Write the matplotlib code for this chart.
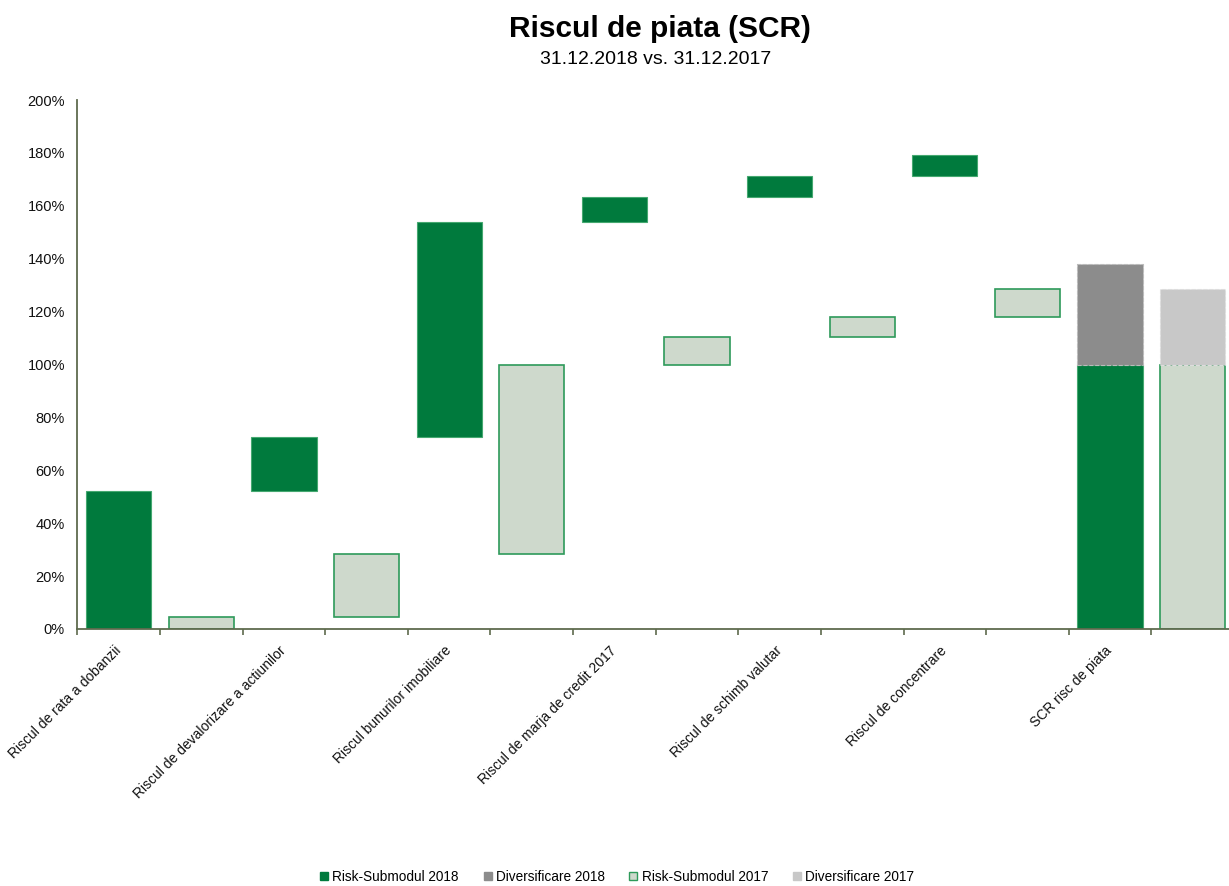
import numpy as np
import matplotlib.pyplot as plt
from matplotlib.lines import Line2D

plt.rcParams['font.family'] = ['Liberation Sans', 'DejaVu Sans']

# category slots (labels only on the 2018 slot of each pair)
categories = ["Riscul de rata a dobanzii", "",
              "Riscul de devalorizare a actiunilor", "",
              "Riscul bunurilor imobiliare", "",
              "Riscul de marja de credit 2017", "",
              "Riscul de schimb valutar", "",
              "Riscul de concentrare", "",
              "SCR risc de piata", ""]

# submodule increments (in % of SCR)
risk_2018 = [52.3, 20.3, 81.3, 9.4, 8.0, 7.9]
risk_2017 = [4.7, 23.7, 71.4, 10.6, 7.6, 10.5]
scr_2018 = 100.0
div_2018 = 38.0
scr_2017 = 100.0
div_2017 = 28.5

c_green = '#007A3D'
c_green_edge = '#45A870'
c_light = '#CED9CC'
c_light_edge = '#2E9A5A'
c_grey = '#8C8C8C'
c_lgrey = '#C8C8C8'

fig = plt.figure(figsize=(12.29, 8.86), dpi=100)
ax = fig.add_axes([77.4 / 1229, 1 - 629 / 886, (1234 - 77.4) / 1229, 529 / 886])

w = 0.79
n = len(risk_2018)
x18 = np.arange(n) * 2
x17 = np.arange(n) * 2 + 1
bot18 = np.concatenate([[0], np.cumsum(risk_2018)[:-1]])
bot17 = np.concatenate([[0], np.cumsum(risk_2017)[:-1]])

ax.bar(x18, risk_2018, w, bottom=bot18, color=c_green, edgecolor=c_green_edge, linewidth=0.8)
ax.bar(x17, risk_2017, w, bottom=bot17, color=c_light, edgecolor=c_light_edge, linewidth=1.2)

# SCR totals with diversification on top
ax.bar(12, scr_2018, w, color=c_green, edgecolor=c_green_edge, linewidth=0.8)
ax.bar(12, div_2018, w, bottom=scr_2018, color=c_grey, edgecolor='#BBBBBB',
       linewidth=0.8, linestyle='--')
ax.bar(13, scr_2017, w, color=c_light, edgecolor=c_light_edge, linewidth=1.2)
ax.bar(13, div_2017, w, bottom=scr_2017, color=c_lgrey, edgecolor='#DDDDDD',
       linewidth=0.8, linestyle='--')

ax.set_xlim(-0.5, len(categories) - 0.5)
ax.set_ylim(0, 200)
ax.set_yticks(np.arange(0, 201, 20))
ax.set_yticklabels(['%d%%' % v for v in np.arange(0, 201, 20)], fontsize=10.5, color='#111111')
ax.tick_params(axis='y', length=0, pad=9)

ax.set_xticks(np.arange(len(categories)))
ax.set_xticklabels(categories, rotation=45, ha='right', va='center',
                   rotation_mode='anchor', fontsize=10, color='#111111')
ax.tick_params(axis='x', which='major', length=0, pad=14)
ax.set_xticks(np.arange(-0.5, len(categories), 1), minor=True)
ax.tick_params(axis='x', which='minor', length=4, direction='out', color='#5F6B4E', width=1.2)

for s in ['top', 'right']:
    ax.spines[s].set_visible(False)
for s in ['left', 'bottom']:
    ax.spines[s].set_color('#5F6B4E')
    ax.spines[s].set_linewidth(1.3)

fig.text(660 / 1229, 1 - 29 / 886, 'Riscul de piata (SCR)', ha='center', va='center',
         fontsize=21.5, fontweight='bold')
fig.text(656 / 1229, 1 - 60 / 886, '31.12.2018 vs. 31.12.2017', ha='center', va='center',
         fontsize=14)

handles = [
    Line2D([], [], marker='s', linestyle='', markersize=6, markerfacecolor=c_green, markeredgecolor=c_green),
    Line2D([], [], marker='s', linestyle='', markersize=6, markerfacecolor=c_grey, markeredgecolor=c_grey),
    Line2D([], [], marker='s', linestyle='', markersize=6, markerfacecolor=c_light, markeredgecolor=c_light_edge),
    Line2D([], [], marker='s', linestyle='', markersize=6, markerfacecolor=c_lgrey, markeredgecolor=c_lgrey),
]
labels = ['Risk-Submodul 2018', 'Diversificare 2018', 'Risk-Submodul 2017', 'Diversificare 2017']
fig.legend(handles, labels, loc='center', bbox_to_anchor=(617 / 1229, 1 - 877 / 886), ncol=4,
           frameon=False, fontsize=9.8, handlelength=0.6, handletextpad=0.3, columnspacing=1.8)

fig.savefig('out.png', dpi=100)
